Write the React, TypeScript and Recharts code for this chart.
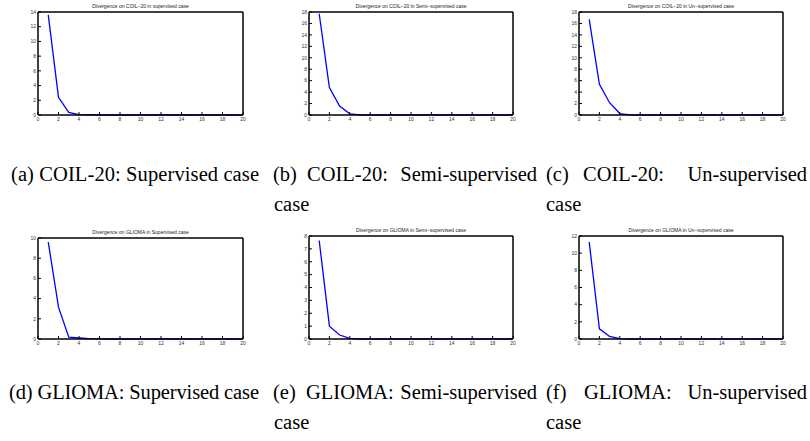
import React from "react";
import { LineChart, Line, XAxis, YAxis } from "recharts";

const iterations = [1, 2, 3, 4, 5, 6, 7, 8, 9, 10, 11, 12, 13, 14, 15, 16, 17, 18, 19, 20];
const xTicks = [0, 2, 4, 6, 8, 10, 12, 14, 16, 18, 20];

const coilSupervised = [13.6, 2.4, 0.35, 0.05, 0.01, 0, 0, 0, 0, 0, 0, 0, 0, 0, 0, 0, 0, 0, 0, 0];
const coilSemi = [17.7, 4.8, 1.55, 0.2, 0.02, 0, 0, 0, 0, 0, 0, 0, 0, 0, 0, 0, 0, 0, 0, 0];
const coilUn = [16.7, 5.35, 2.15, 0.25, 0.02, 0, 0, 0, 0, 0, 0, 0, 0, 0, 0, 0, 0, 0, 0, 0];
const gliomaSupervised = [9.6, 3.15, 0.18, 0.1, 0.03, 0.01, 0, 0, 0, 0, 0, 0, 0, 0, 0, 0, 0, 0, 0, 0];
const gliomaSemi = [7.65, 1.0, 0.31, 0.05, 0, 0, 0, 0, 0, 0, 0, 0, 0, 0, 0, 0, 0, 0, 0, 0];
const gliomaUn = [11.3, 1.18, 0.3, 0.04, 0, 0, 0, 0, 0, 0, 0, 0, 0, 0, 0, 0, 0, 0, 0, 0];

const ticks14 = [0, 2, 4, 6, 8, 10, 12, 14];
const ticks18 = [0, 2, 4, 6, 8, 10, 12, 14, 16, 18];
const ticks10 = [0, 2, 4, 6, 8, 10];
const ticks8 = [0, 1, 2, 3, 4, 5, 6, 7, 8];
const ticks12 = [0, 2, 4, 6, 8, 10, 12];

const titles = [
  "Divergence on COIL\u221220 in supervised case",
  "Divergence on COIL\u221220 in Semi\u2212supervised case",
  "Divergence on COIL\u221220 in Un\u2212supervised case",
  "Divergence on GLIOMA in Supervised case",
  "Divergence on GLIOMA in Semi\u2212supervised case",
  "Divergence on GLIOMA in Un\u2212supervised case",
];

type PanelSpec = {
  left: number;
  top: number;
  w: number;
  h: number;
  title: string;
  values: number[];
  yTicks: number[];
};

const panels: PanelSpec[] = [
  { left: 38, top: 12, w: 205, h: 103, title: titles[0], values: coilSupervised, yTicks: ticks14 },
  { left: 309, top: 12, w: 204, h: 103, title: titles[1], values: coilSemi, yTicks: ticks18 },
  { left: 579, top: 12, w: 204, h: 103, title: titles[2], values: coilUn, yTicks: ticks18 },
  { left: 38, top: 238, w: 205, h: 101, title: titles[3], values: gliomaSupervised, yTicks: ticks10 },
  { left: 309, top: 236, w: 204, h: 103, title: titles[4], values: gliomaSemi, yTicks: ticks8 },
  { left: 579, top: 236, w: 204, h: 103, title: titles[5], values: gliomaUn, yTicks: ticks12 },
];

const sans = '"Liberation Sans", Arial, sans-serif';
const serif = '"Liberation Serif", "Times New Roman", serif';
const tickFont = { fontSize: 5, fill: "#333", fontFamily: sans };
const boxLine = { stroke: "#000", strokeWidth: 1.5 };

function Panel({ p }: { p: PanelSpec }) {
  const rows = iterations.map((x, i) => ({ x, v: p.values[i] }));
  const yMax = p.yTicks[p.yTicks.length - 1];
  const ML = 20;
  const MT = 12;
  return (
    <div style={{ position: "absolute", left: p.left - ML, top: p.top - MT }}>
      <LineChart
        width={p.w + ML + 10}
        height={p.h + MT + 12}
        data={rows}
        margin={{ top: MT - 1, right: 9, bottom: 0, left: 0 }}
      >
        <XAxis
          dataKey="x"
          type="number"
          domain={[0, 20]}
          ticks={xTicks}
          interval={0}
          height={12}
          tickSize={-3}
          tickMargin={5}
          tick={tickFont}
          axisLine={boxLine}
          tickLine={{ stroke: "#000" }}
        />
        <XAxis
          xAxisId="top"
          orientation="top"
          dataKey="x"
          type="number"
          domain={[0, 20]}
          ticks={xTicks}
          interval={0}
          height={1}
          tickSize={-3}
          tickMargin={0}
          tick={false}
          axisLine={boxLine}
          tickLine={{ stroke: "#000" }}
          label={{ value: p.title, position: "top", offset: 3, fontSize: 5, fill: "#222", fontFamily: sans }}
        />
        <YAxis
          type="number"
          domain={[0, yMax]}
          ticks={p.yTicks}
          interval={0}
          width={ML}
          tickSize={-3}
          tickMargin={5}
          tick={tickFont}
          axisLine={boxLine}
          tickLine={{ stroke: "#000" }}
        />
        <YAxis
          yAxisId="right"
          orientation="right"
          type="number"
          domain={[0, yMax]}
          ticks={p.yTicks}
          interval={0}
          width={1}
          tickSize={-3}
          tickMargin={0}
          tick={false}
          axisLine={boxLine}
          tickLine={{ stroke: "#000" }}
        />
        <Line
          xAxisId="top"
          yAxisId="right"
          type="linear"
          dataKey="v"
          stroke="none"
          strokeWidth={0}
          dot={false}
          legendType="none"
          isAnimationActive={false}
        />
        <Line
          type="linear"
          dataKey="v"
          stroke="#0000ff"
          strokeWidth={1.3}
          dot={false}
          isAnimationActive={false}
        />
      </LineChart>
    </div>
  );
}

type Word = { text: string; x: number; y: number; anchor?: "start" | "end"; len?: number };

const captionWords: Word[] = [
  { text: "(a) COIL-20: Supervised case", x: 11, y: 181, len: 248 },
  { text: "(b)", x: 273, y: 181 },
  { text: "COIL-20:", x: 307, y: 181 },
  { text: "Semi-supervised", x: 537, y: 181, anchor: "end" },
  { text: "case", x: 274, y: 211 },
  { text: "(c)", x: 546, y: 181 },
  { text: "COIL-20:", x: 583, y: 181 },
  { text: "Un-supervised", x: 807, y: 181, anchor: "end" },
  { text: "case", x: 546, y: 211 },
  { text: "(d) GLIOMA: Supervised case", x: 9, y: 399, len: 250 },
  { text: "(e)", x: 273, y: 399 },
  { text: "GLIOMA:", x: 306, y: 399 },
  { text: "Semi-supervised", x: 537, y: 399, anchor: "end" },
  { text: "case", x: 274, y: 429 },
  { text: "(f)", x: 546, y: 399 },
  { text: "GLIOMA:", x: 584, y: 399 },
  { text: "Un-supervised", x: 807, y: 399, anchor: "end" },
  { text: "case", x: 546, y: 429 },
];

export default function App() {
  return (
    <div style={{ position: "absolute", left: 0, top: 0, width: 810, height: 441, background: "#fff", overflow: "hidden" }}>
      {panels.map((p, i) => (
        <Panel key={i} p={p} />
      ))}
      <svg width={810} height={441} style={{ position: "absolute", left: 0, top: 0, pointerEvents: "none" }}>
        {captionWords.map((w, i) => (
          <text
            key={i}
            x={w.x}
            y={w.y}
            textAnchor={w.anchor ?? "start"}
            textLength={w.len}
            lengthAdjust={w.len ? "spacing" : undefined}
            style={{ fontSize: 20.5, fontFamily: serif }}
            fill="#000"
          >
            {w.text}
          </text>
        ))}
      </svg>
    </div>
  );
}
